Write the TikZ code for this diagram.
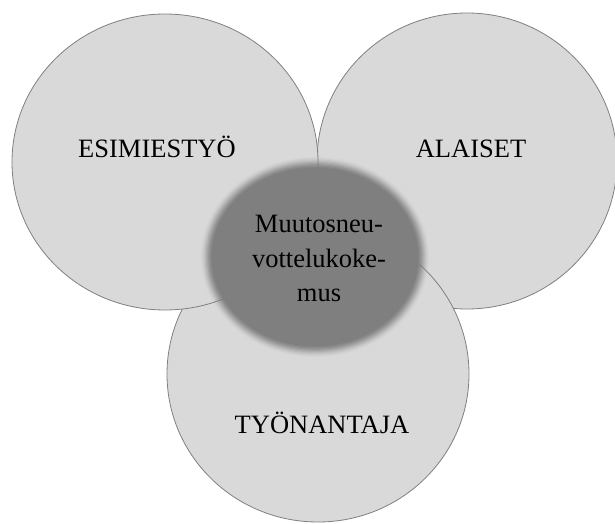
\documentclass[tikz,border=0pt]{standalone}
\usepackage{fontspec}
\setmainfont{Liberation Serif}

\definecolor{discfill}{RGB}{217,217,217}
\definecolor{discline}{RGB}{128,128,128}
\definecolor{corefill}{RGB}{127,127,127}

\tikzset{
  area/.style={fill=discfill, draw=discline, line width=0.8pt},
  label/.style={font=\fontsize{26.5}{34}\selectfont, inner sep=0pt, anchor=base},
}

\begin{document}
\begin{tikzpicture}[x=1pt, y=-1pt]
  \useasboundingbox (0,0) rectangle (615,524);
  \fill[white] (0,0) rectangle (615,524);

  % three overlapping areas
  \coordinate (cR) at (467,161);
  \coordinate (cB) at (318,374);
  \coordinate (cL) at (165,162);
  \coordinate (cC) at (315,257);

  \path[area] (cR) ellipse [x radius=150, y radius=148];
  \path[area] (cB) ellipse [x radius=151, y radius=148];
  \path[area] (cL) ellipse [x radius=153, y radius=148];

  % blurred core: opaque centre plus thin translucent rings that
  % build up a smooth fall-off over 14pt around the rim
  \fill[corefill] (cC) ellipse [x radius=101, y radius=87];
  \foreach \k/\a in {1/0.8823, 2/0.6164, 3/0.4548, 4/0.3502, 5/0.2771,
                     6/0.2216, 7/0.1774, 8/0.1395, 9/0.1053, 10/0.0722,
                     11/0.0381, 12/0.0051}{
    \fill[corefill, fill opacity=\a]
      (cC) ellipse [x radius={101+\k*14/12}, y radius={87+\k*14/12}];
  }

  \node[label] (esim) at (157,157) {ESIMIESTYÖ};
  \node[label] (alai) at (471,157) {ALAISET};
  \node[label] (tyon) at (322,433.5) {TYÖNANTAJA};
  \node[font=\fontsize{26.5}{34.5}\selectfont, inner sep=0pt, align=center]
    (muut) at (319,258.5) {Muutosneu-\\vottelukoke-\\mus};
\end{tikzpicture}
\end{document}
